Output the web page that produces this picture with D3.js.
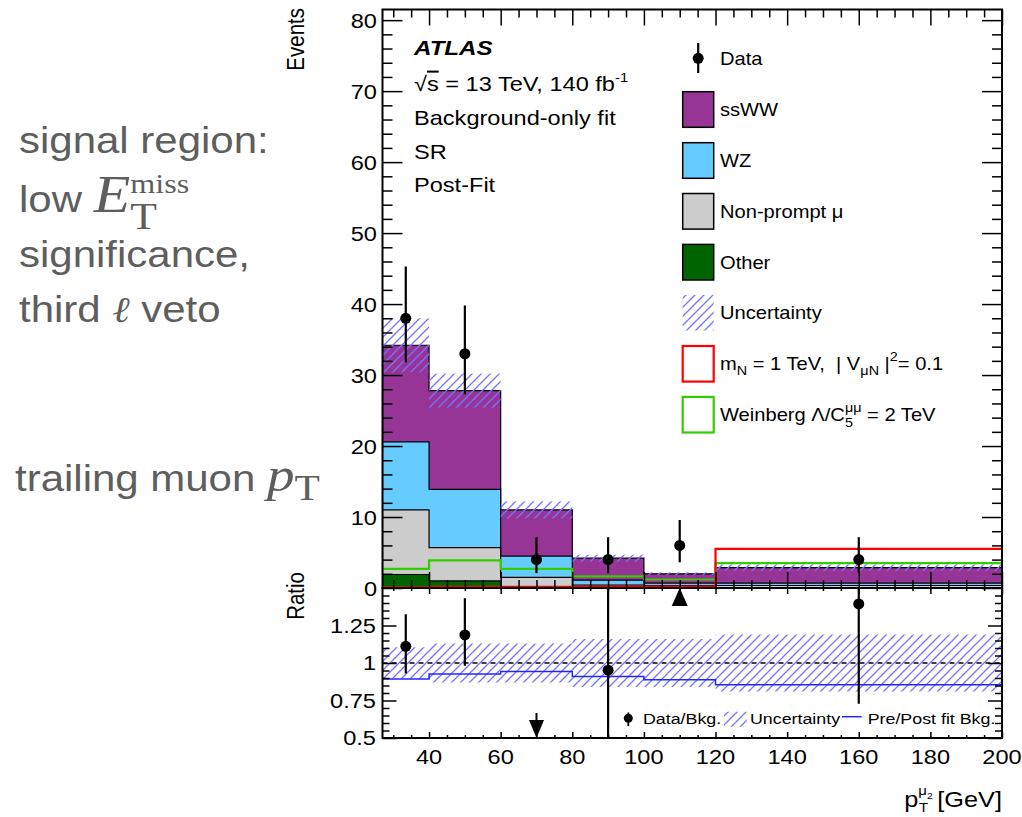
<!DOCTYPE html>
<html>
<head>
<meta charset="utf-8">
<script src="https://cdn.jsdelivr.net/npm/d3@7"></script>
<style>
  body { margin: 0; background: #fff; }
  svg { display: block; }
  text { white-space: pre; }
</style>
</head>
<body>
<svg id="chart" width="1022" height="817"></svg>
<script>
// ---- binning of the trailing muon pT [GeV] ----
const binEdges = [27, 40, 60, 80, 100, 120, 200];

// ---- post-fit background yields per bin ----
const other     = [1.9, 1.0, 0.05, 0.05, 0.05, 0.05];
const nonPrompt = [9.1, 4.7, 1.45, 0.35, 0.30, 0.30];
const wz        = [9.6, 8.2, 3.0, 0.70, 0.35, 0.35];
const ssww      = [13.6, 13.9, 6.5, 3.10, 1.30, 2.17];
const bkgUnc    = [3.8, 2.4, 1.2, 0.5, 0.2, 0.45];

// ---- signal hypotheses ----
const heavyN    = [0.10, 0.15, 0.15, 0.20, 0.20, 5.5];
const weinberg  = [2.7, 3.9, 2.7, 1.65, 1.2, 3.5];

// ---- observed data with 68% Poisson intervals ----
const dataCounts = [38, 33, 4, 4, 6, 4];
const dataLow    = [31.8, 27.3, 2.09, 2.09, 3.62, 2.09];
const dataHigh   = [45.3, 39.8, 7.16, 7.16, 9.58, 7.16];

// ---- ratio panel ----
const ratioUnc   = [0.105, 0.13, 0.13, 0.16, 0.16, 0.19];
const prePostBkg = [0.893, 0.927, 0.944, 0.91, 0.889, 0.855];

// ---- axis ticks ----
const xTickLabels     = [40, 60, 80, 100, 120, 140, 160, 180, 200];
const yMainTickLabels = [0, 10, 20, 30, 40, 50, 60, 70, 80];
const yRatioTickLabels = [0.5, 0.75, 1, 1.25];

const SX = 1.15;           // horizontal text stretch of this layout
const SANS = "'Liberation Sans', Arial, Helvetica, sans-serif";
const SERIF = "'Liberation Serif', 'Times New Roman', serif";

const svg = d3.select("#chart");

const L = 382.5, R = 1002, T = 9.5, MB = 588, RB = 738;
const x = d3.scaleLinear().domain([27, 200]).range([L, R]);
const yMain = d3.scaleLinear().domain([0, 81.5]).range([MB, T]);
const yRatio = d3.scaleLinear().domain([0.5, 1.5]).range([RB, MB]);

const nb = dataCounts.length;
const centers = d3.range(nb).map(i => (binEdges[i] + binEdges[i + 1]) / 2);

// stacked totals: Other, Non-prompt, WZ, ssWW
const layers = [other, nonPrompt, wz, ssww];
const cum = [];
layers.forEach((arr, k) => cum.push(arr.map((v, i) => v + (k ? cum[k - 1][i] : 0))));
const total = cum[3];
const layerColors = ["#006400", "#cccccc", "#66ccff", "#973596"];

// ---- defs ----
const defs = svg.append("defs");
const pat = defs.append("pattern").attr("id", "hatch")
  .attr("patternUnits", "userSpaceOnUse").attr("width", 9).attr("height", 9);
pat.append("path").attr("d", "M-1,1 L1,-1 M0,9 L9,0 M8,10 L10,8")
  .attr("stroke", "#7474ff").attr("stroke-width", 1.3);
defs.append("clipPath").attr("id", "clipMain").append("rect")
  .attr("x", L).attr("y", T).attr("width", R - L).attr("height", MB - T);
defs.append("clipPath").attr("id", "clipRatio").append("rect")
  .attr("x", L).attr("y", MB).attr("width", R - L).attr("height", RB - MB);

// ---- text helper supporting sub/superscripts ----
function rich(parent, px, py, parts, opt = {}) {
  const g = parent.append("g");
  const inner = g.append("g");
  let cx = 0, stackMax = 0;
  parts.forEach(p => {
    const t = inner.append("text")
      .attr("x", cx).attr("y", p.dy || 0)
      .attr("font-size", p.size || opt.size || 20)
      .attr("font-family", p.family || opt.family || SANS)
      .attr("font-style", p.style || opt.style || null)
      .attr("font-weight", p.weight || opt.weight || null)
      .attr("fill", p.fill || opt.fill || "#000")
      .attr("text-decoration", p.deco || null)
      .text(p.t);
    const w = t.node().getComputedTextLength() + (p.pad || 0);
    if (p.stack) stackMax = Math.max(stackMax, w);
    else { cx += Math.max(w, stackMax); stackMax = 0; }
  });
  let ox = 0;
  if (opt.anchor === "end") ox = -cx; else if (opt.anchor === "middle") ox = -cx / 2;
  inner.attr("transform", `translate(${ox},0)`);
  g.attr("transform", `translate(${px},${py}) scale(${opt.sx || SX},1)` + (opt.rotate ? ` rotate(${opt.rotate})` : ""));
  return g;
}

// ---- main panel ----
const gMain = svg.append("g").attr("clip-path", "url(#clipMain)");

function stepPath(vals, yS, closed) {
  let d = "";
  vals.forEach((v, i) => {
    const x0 = x(binEdges[i]), x1 = x(binEdges[i + 1]), yy = yS(v);
    d += (i === 0 ? (closed ? `M${x0},${yS(0)}L${x0},${yy}` : `M${x0},${yy}`) : `L${x0},${yy}`) + `L${x1},${yy}`;
  });
  if (closed) d += `L${x(binEdges[nb])},${yS(0)}Z`;
  return d;
}

// stacked histograms drawn from the cumulative top down
for (let k = 3; k >= 0; k--) {
  gMain.append("path").attr("d", stepPath(cum[k], yMain, true))
    .attr("fill", layerColors[k]).attr("stroke", "#000").attr("stroke-width", 1.2);
}

// signal hypotheses
gMain.append("path").attr("d", stepPath(weinberg, yMain, false))
  .attr("fill", "none").attr("stroke", "#33cc00").attr("stroke-width", 2.2);
gMain.append("path").attr("d", stepPath(heavyN, yMain, false))
  .attr("fill", "none").attr("stroke", "#ff0000").attr("stroke-width", 2.2);

// background uncertainty band
gMain.selectAll("rect.unc").data(d3.range(nb)).join("rect")
  .attr("x", i => x(binEdges[i])).attr("width", i => x(binEdges[i + 1]) - x(binEdges[i]))
  .attr("y", i => yMain(total[i] + bkgUnc[i]))
  .attr("height", i => yMain(total[i] - bkgUnc[i]) - yMain(total[i] + bkgUnc[i]))
  .attr("fill", "url(#hatch)");

// data
gMain.selectAll("line.err").data(d3.range(nb)).join("line")
  .attr("x1", i => x(centers[i])).attr("x2", i => x(centers[i]))
  .attr("y1", i => yMain(dataHigh[i])).attr("y2", i => yMain(dataLow[i]))
  .attr("stroke", "#000").attr("stroke-width", 2.2);
gMain.selectAll("circle.pt").data(d3.range(nb)).join("circle")
  .attr("cx", i => x(centers[i])).attr("cy", i => yMain(dataCounts[i])).attr("r", 5.5)
  .attr("fill", "#000");

// ---- ratio panel ----
const gRatio = svg.append("g").attr("clip-path", "url(#clipRatio)");
gRatio.selectAll("rect.runc").data(d3.range(nb)).join("rect")
  .attr("x", i => x(binEdges[i])).attr("width", i => x(binEdges[i + 1]) - x(binEdges[i]))
  .attr("y", i => yRatio(1 + ratioUnc[i]))
  .attr("height", i => yRatio(1 - ratioUnc[i]) - yRatio(1 + ratioUnc[i]))
  .attr("fill", "url(#hatch)");
gRatio.append("line").attr("x1", L).attr("x2", R).attr("y1", yRatio(1)).attr("y2", yRatio(1))
  .attr("stroke", "#000").attr("stroke-width", 1.5).attr("stroke-dasharray", "5,4");
gRatio.append("path").attr("d", stepPath(prePostBkg, yRatio, false))
  .attr("fill", "none").attr("stroke", "#2424ff").attr("stroke-width", 1.5);

const ratio = dataCounts.map((v, i) => v / total[i]);
const inRange = d3.range(nb).filter(i => ratio[i] >= 0.5 && ratio[i] <= 1.5);
gRatio.selectAll("line.rerr").data(inRange).join("line")
  .attr("x1", i => x(centers[i])).attr("x2", i => x(centers[i]))
  .attr("y1", i => yRatio(dataHigh[i] / total[i])).attr("y2", i => yRatio(dataLow[i] / total[i]))
  .attr("stroke", "#000").attr("stroke-width", 2.2);
gRatio.selectAll("circle.rpt").data(inRange).join("circle")
  .attr("cx", i => x(centers[i])).attr("cy", i => yRatio(ratio[i])).attr("r", 5.5)
  .attr("fill", "#000");

// out-of-range markers
d3.range(nb).filter(i => ratio[i] < 0.5).forEach(i => {
  const cx = x(centers[i]);
  svg.append("line").attr("x1", cx).attr("x2", cx).attr("y1", RB - 25).attr("y2", RB - 16)
    .attr("stroke", "#000").attr("stroke-width", 2);
  svg.append("path").attr("d", `M${cx - 7.5},${RB - 18}L${cx + 7.5},${RB - 18}L${cx},${RB}Z`).attr("fill", "#000");
});
d3.range(nb).filter(i => ratio[i] > 1.5).forEach(i => {
  const cx = x(centers[i]);
  svg.append("path").attr("d", `M${cx - 8},${MB + 18}L${cx + 8},${MB + 18}L${cx},${MB}Z`).attr("fill", "#000");
});

// ---- axes (ticks inside the frames, on all four sides) ----
function ticks(g, axisFn, scale, values, size) {
  g.call(axisFn(scale).tickValues(values).tickSize(-size).tickFormat(""))
    .call(s => s.select(".domain").remove())
    .call(s => s.selectAll("line").attr("stroke", "#000").attr("stroke-width", 1.5));
}
const xMinor = d3.range(30, 200.1, 5).filter(v => v % 20 !== 0);
const yMinor = d3.range(2, 81, 2).filter(v => v % 10 !== 0);
const rMinor = d3.range(0.55, 1.5, 0.05).filter(v => Math.abs(v / 0.25 - Math.round(v / 0.25)) > 1e-6);

const axes = svg.append("g");
// main panel
ticks(axes.append("g").attr("transform", `translate(0,${MB})`), d3.axisBottom, x, xTickLabels, 16);
ticks(axes.append("g").attr("transform", `translate(0,${MB})`), d3.axisBottom, x, xMinor, 8);
ticks(axes.append("g").attr("transform", `translate(0,${T})`), d3.axisTop, x, xTickLabels, 16);
ticks(axes.append("g").attr("transform", `translate(0,${T})`), d3.axisTop, x, xMinor, 8);
ticks(axes.append("g").attr("transform", `translate(${L},0)`), d3.axisLeft, yMain, yMainTickLabels, 20);
ticks(axes.append("g").attr("transform", `translate(${L},0)`), d3.axisLeft, yMain, yMinor, 10);
ticks(axes.append("g").attr("transform", `translate(${R},0)`), d3.axisRight, yMain, yMainTickLabels, 20);
ticks(axes.append("g").attr("transform", `translate(${R},0)`), d3.axisRight, yMain, yMinor, 10);
// ratio panel
ticks(axes.append("g").attr("transform", `translate(0,${RB})`), d3.axisBottom, x, xTickLabels, 6);
ticks(axes.append("g").attr("transform", `translate(0,${RB})`), d3.axisBottom, x, xMinor, 3);
ticks(axes.append("g").attr("transform", `translate(0,${MB})`), d3.axisTop, x, xTickLabels, 6);
ticks(axes.append("g").attr("transform", `translate(0,${MB})`), d3.axisTop, x, xMinor, 3);
ticks(axes.append("g").attr("transform", `translate(${L},0)`), d3.axisLeft, yRatio, yRatioTickLabels, 14);
ticks(axes.append("g").attr("transform", `translate(${L},0)`), d3.axisLeft, yRatio, rMinor, 7);
ticks(axes.append("g").attr("transform", `translate(${R},0)`), d3.axisRight, yRatio, yRatioTickLabels, 14);
ticks(axes.append("g").attr("transform", `translate(${R},0)`), d3.axisRight, yRatio, rMinor, 7);

// frames
svg.append("rect").attr("x", L).attr("y", T).attr("width", R - L).attr("height", MB - T)
  .attr("fill", "none").attr("stroke", "#000").attr("stroke-width", 2);
svg.append("rect").attr("x", L).attr("y", MB).attr("width", R - L).attr("height", RB - MB)
  .attr("fill", "none").attr("stroke", "#000").attr("stroke-width", 2);

// tick labels
xTickLabels.forEach(v => rich(svg, x(v), 764, [{ t: String(v) }], { size: 20.5, anchor: "middle" }));
yMainTickLabels.forEach(v => rich(svg, 377, yMain(v) + 7.5, [{ t: String(v) }], { size: 20.5, anchor: "end" }));
yRatioTickLabels.forEach(v => rich(svg, 376, yRatio(v) + 7.2, [{ t: String(v) }], { size: 20.5, anchor: "end" }));

// axis titles
rich(svg, 303.5, 8, [{ t: "Events" }], { size: 20.5, anchor: "end", rotate: -90 });
rich(svg, 303.5, 572, [{ t: "Ratio" }], { size: 20.5, anchor: "end", rotate: -90 });
rich(svg, 1002, 807, [
  { t: "p" },
  { t: "μ", size: 13, dy: -12, stack: false, pad: 0 },
  { t: "2", size: 9, dy: -8, pad: 4 },
  { t: "[GeV]" }
], { size: 22, anchor: "end" });
rich(svg, 919, 812, [{ t: "T", size: 13 }], { size: 13, sx: SX });

// ---- labels in the main panel ----
rich(svg, 414, 55, [{ t: "ATLAS" }], { size: 21, weight: "bold", style: "italic" });
rich(svg, 414, 91, [
  { t: "√" }, { t: "s", deco: "overline" }, { t: " = 13 TeV, 140 fb" }, { t: "-1", size: 13, dy: -9 }
], { size: 20.5 });
rich(svg, 414, 125, [{ t: "Background-only fit" }], { size: 20.5 });
rich(svg, 414, 158.5, [{ t: "SR" }], { size: 20.5 });
rich(svg, 414, 192, [{ t: "Post-Fit" }], { size: 20.5 });

// ---- legend ----
const legRowY = [58.3, 109.5, 160.5, 211.3, 262.2, 312.7, 363.8, 414.7];
const LX = 682.7, LW = 31, LH = 35.6, TX = 720;
svg.append("line").attr("x1", LX + LW / 2).attr("x2", LX + LW / 2).attr("y1", 43).attr("y2", 73)
  .attr("stroke", "#000").attr("stroke-width", 2.2);
svg.append("circle").attr("cx", LX + LW / 2).attr("cy", legRowY[0]).attr("r", 5.5).attr("fill", "#000");
const boxStyles = [
  { fill: layerColors[3], stroke: "#000", sw: 1.5 },
  { fill: layerColors[2], stroke: "#000", sw: 1.5 },
  { fill: layerColors[1], stroke: "#000", sw: 1.5 },
  { fill: layerColors[0], stroke: "#000", sw: 1.5 },
  { fill: "url(#hatch)", stroke: "none", sw: 0 },
  { fill: "#fff", stroke: "#ff0000", sw: 2.2 },
  { fill: "#fff", stroke: "#33cc00", sw: 2.2 }
];
boxStyles.forEach((b, k) => {
  svg.append("rect").attr("x", LX).attr("y", legRowY[k + 1] - LH / 2).attr("width", LW).attr("height", LH)
    .attr("fill", b.fill).attr("stroke", b.stroke).attr("stroke-width", b.sw);
});
const legendEntries = [
  [{ t: "Data" }],
  [{ t: "ssWW" }],
  [{ t: "WZ" }],
  [{ t: "Non-prompt μ" }],
  [{ t: "Other" }],
  [{ t: "Uncertainty" }],
  [{ t: "m" }, { t: "N", size: 12.5, dy: 5 }, { t: " = 1 TeV,  | V" }, { t: "μN", size: 12.5, dy: 5 },
   { t: " |" }, { t: "2", size: 12.5, dy: -9 }, { t: "= 0.1" }],
  [{ t: "Weinberg Λ/C" }, { t: "μμ", size: 12.5, dy: -9, stack: true }, { t: "5", size: 12.5, dy: 6 },
   { t: " = 2 TeV" }]
];
legendEntries.forEach((parts, k) => rich(svg, TX, legRowY[k] + 6.5, parts, { size: 17.5 }));

// ratio legend
svg.append("line").attr("x1", 628.3).attr("x2", 628.3).attr("y1", 712.5).attr("y2", 726)
  .attr("stroke", "#000").attr("stroke-width", 1.8);
svg.append("circle").attr("cx", 628.3).attr("cy", 718.3).attr("r", 4.5).attr("fill", "#000");
rich(svg, 643, 724, [{ t: "Data/Bkg." }], { size: 15.5 });
svg.append("rect").attr("x", 724).attr("y", 711.7).attr("width", 22.7).attr("height", 15).attr("fill", "url(#hatch)");
rich(svg, 750, 724, [{ t: "Uncertainty" }], { size: 15.5 });
svg.append("line").attr("x1", 842).attr("x2", 861.7).attr("y1", 716.7).attr("y2", 716.7)
  .attr("stroke", "#2424ff").attr("stroke-width", 1.5);
rich(svg, 867.7, 724, [{ t: "Pre/Post fit Bkg." }], { size: 15.5 });

// ---- annotation on the left ----
const GRAY = "#5e5e5e";
rich(svg, 19, 153, [{ t: "signal region:" }], { size: 36.5, fill: GRAY });
rich(svg, 19, 212, [
  { t: "low " },
  { t: "E", family: SERIF, style: "italic", size: 52, pad: 0 },
  { t: "miss", family: SERIF, size: 28, dy: -19, stack: true },
  { t: "T", family: SERIF, size: 38, dy: 17 }
], { size: 36.5, fill: GRAY });
rich(svg, 19, 267, [{ t: "significance," }], { size: 36.5, fill: GRAY });
rich(svg, 19, 321.5, [
  { t: "third " }, { t: "ℓ", family: SERIF, style: "italic", size: 36 }, { t: " veto" }
], { size: 36.5, fill: GRAY });
rich(svg, 15, 491, [
  { t: "trailing muon " },
  { t: "p", family: SERIF, style: "italic", size: 48 },
  { t: "T", family: SERIF, size: 36, dy: 9 }
], { size: 36.5, fill: GRAY });
</script>
</body>
</html>
